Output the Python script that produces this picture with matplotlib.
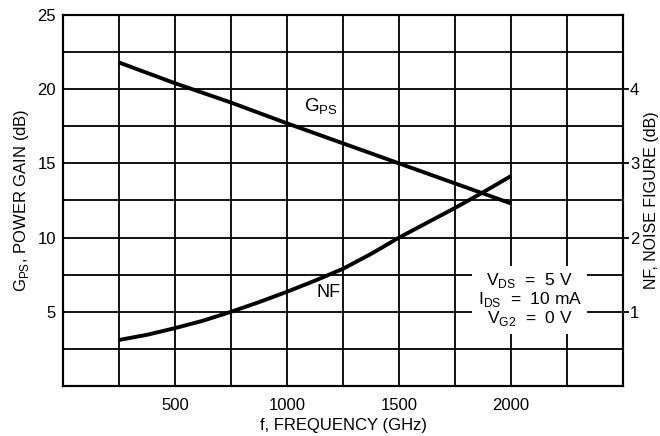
import numpy as np
import matplotlib
matplotlib.use("Agg")
import matplotlib.pyplot as plt

plt.rcParams['font.family'] = ['Liberation Sans', 'DejaVu Sans']
plt.rcParams['mathtext.fontset'] = 'custom'
plt.rcParams['mathtext.rm'] = 'Liberation Sans'

# power gain Gps (dB), left axis
freq_gps = [250, 500, 750, 1000, 1250, 1500, 1750, 2000]
gps = [21.8, 20.4, 19.1, 17.7, 16.35, 15.0, 13.65, 12.3]

# noise figure NF (dB), right axis
freq_nf = [250, 375, 500, 625, 750, 875, 1000, 1125, 1250, 1375, 1500, 1625, 1750, 1875, 2000]
nf = [0.62, 0.69, 0.78, 0.88, 1.0, 1.13, 1.27, 1.42, 1.58, 1.78, 2.0, 2.2, 2.4, 2.61, 2.83]

x_ticks = [500, 1000, 1500, 2000]
y_ticks = [5, 10, 15, 20, 25]
nf_ticks = [1, 2, 3, 4]

fig = plt.figure(figsize=(6.6, 4.36), dpi=100)
ax = fig.add_axes([0.0955, 0.1147, 0.8485, 0.8509])
ax2 = ax.twinx()

ax.set_xlim(0, 2500)
ax.set_ylim(0, 25)
ax2.set_ylim(0, 5)

ax.set_xticks(x_ticks)
ax.set_yticks(y_ticks)
ax.set_xticks(np.arange(0, 2501, 250), minor=True)
ax.set_yticks(np.arange(0, 25.1, 2.5), minor=True)
ax.grid(which='both', color='black', lw=1.3)
ax.tick_params(which='both', length=0, labelsize=12)
ax.tick_params(axis='x', pad=9)
ax.tick_params(axis='y', pad=5)
ax2.set_yticks(nf_ticks)
ax2.tick_params(length=4, width=1.3, labelsize=12, pad=1)
for a in (ax, ax2):
    for s in a.spines.values():
        s.set_linewidth(1.5)

ax.plot(freq_gps, gps, color='black', lw=2.8, solid_capstyle='butt')
ax2.plot(freq_nf, nf, color='black', lw=2.8, solid_capstyle='butt')

ax.text(1150, 18.8, r'G$_{\mathrm{PS}}$', fontsize=13.5, ha='center', va='center')
ax.text(1185, 6.3, 'NF', fontsize=13, ha='center', va='center')

ax.text(2083, 5.8, 'V$_{\\mathrm{DS}}$  =  5 V\nI$_{\\mathrm{DS}}$  =  10 mA\nV$_{\\mathrm{G2}}$  =  0 V',
        fontsize=12.5, ha='center', va='center', linespacing=1.0, zorder=5,
        bbox=dict(facecolor='white', edgecolor='none', pad=4))

ax.set_xlabel('f, FREQUENCY (GHz)', fontsize=12, labelpad=3)
ax.set_ylabel(r'G$_{\mathrm{PS}}$, POWER GAIN (dB)', fontsize=12, labelpad=5)
ax2.set_ylabel('NF, NOISE FIGURE (dB)', fontsize=11.5, labelpad=3)

fig.savefig('out.png', dpi=100)
